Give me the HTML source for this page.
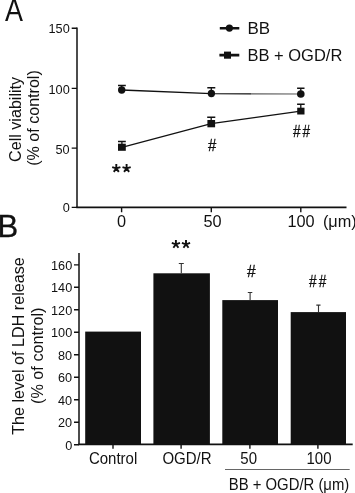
<!DOCTYPE html>
<html><head><meta charset="utf-8">
<style>
html,body{margin:0;padding:0;background:#fff;}
body{width:355px;height:493px;overflow:hidden;}
svg{display:block;will-change:transform;font-family:"Liberation Sans",sans-serif;fill:#111;}
.ln{stroke:#111;stroke-width:1.4;fill:none;}
.ax{stroke:#111;stroke-width:1.7;fill:none;}
.ay{stroke:#111;stroke-width:1.5;fill:none;}
.dl{stroke:#111;stroke-width:1.3;fill:none;}
.cp{stroke:#111;stroke-width:1.5;fill:none;}
.hs{stroke:#111;stroke-width:0.3;}
.as{stroke:#111;stroke-width:1.9;fill:none;}
.eb{stroke:#333;stroke-width:1.1;fill:none;}
</style></head><body>
<svg width="355" height="493" viewBox="0 0 355 493">
<rect width="355" height="493" fill="#fff"/>
<!-- Panel A -->
<text transform="translate(5 20.7) scale(0.885 1.055)" font-size="30.4">A</text>
<!-- axes -->
<path class="ay" d="M77 27.4V208"/>
<path class="ax" d="M76.25 207.4H346.5"/>
<path class="ln" d="M71.7 28.3H77M71.7 88.4H77M71.7 148.1H77M71.7 207.4H77"/>
<path class="ln" d="M121.6 207V212.3M211.3 207V212.3M300.8 207V212.3"/>
<g font-size="12.7" text-anchor="end">
<text x="69.7" y="32.8">150</text>
<text x="69.7" y="93.8">100</text>
<text x="69.7" y="153.5">50</text>
<text x="69.7" y="212.2">0</text>
</g>
<g font-size="16.3">
<text x="117.1" y="226.6">0</text>
<text x="203.4" y="226.6">50</text>
<text x="287.5" y="226.6">100</text>
<text x="322.9" y="226.6">(μm)</text>
</g>
<g font-size="16">
<text transform="translate(20.5 161.9) rotate(-90)" textLength="85" lengthAdjust="spacingAndGlyphs">Cell viability</text>
<text transform="translate(39.3 165.8) rotate(-90)" textLength="95.6" lengthAdjust="spacingAndGlyphs">(% of control)</text>
</g>
<!-- legend -->
<path d="M219.8 28.2H239.3M219.4 55.1H239.3" stroke="#111" stroke-width="2.6" fill="none"/>
<circle cx="229.4" cy="28.1" r="3.6"/>
<rect x="224" y="51.6" width="7" height="7.1"/>
<text x="247.5" y="33.6" font-size="15.8" textLength="22.6" lengthAdjust="spacingAndGlyphs">BB</text>
<text x="247.5" y="60.8" font-size="15.8" textLength="94.8" lengthAdjust="spacingAndGlyphs">BB + OGD/R</text>
<!-- data -->
<path class="dl" d="M121.7 90L211.3 93.6L251 93.8"/>
<path d="M251 93.8L300.8 94" stroke="#5a5a5a" stroke-width="1.2" fill="none"/>
<path class="dl" d="M121.9 147.3L211.2 123.7L300.8 111.2"/>
<path class="dl" d="M121.7 90V85.4M211.3 93.6V87.7M300.8 94V88.3 M121.9 147V141.6M211.2 123V117.2M300.8 111V104.3"/>
<path class="cp" d="M118 85.4H125.8M207.3 87.7H215.3M297.1 88.3H304.5 M118 141.6H125.8M207.2 117.2H215.3M297.1 104.3H304.7"/>
<circle cx="121.7" cy="90" r="3.7"/><circle cx="211.4" cy="93.5" r="3.65"/><circle cx="300.8" cy="94" r="3.8"/>
<rect x="118" y="143.7" width="7.8" height="7.1"/><rect x="207.4" y="120" width="7.7" height="7.3"/><rect x="297.2" y="107.7" width="7.3" height="6.8"/>
<path class="as" transform="translate(116.3 168.4)" d="M0 0V-4.3M0 0L4.1 -1.33M0 0L-4.1 -1.33M0 0L2.53 3.48M0 0L-2.53 3.48"/><path class="as" transform="translate(126.6 168.4)" d="M0 0V-4.3M0 0L4.1 -1.33M0 0L-4.1 -1.33M0 0L2.53 3.48M0 0L-2.53 3.48"/>
<text class="hs" x="212.2" y="150.8" font-size="16.2" text-anchor="middle" textLength="8.3" lengthAdjust="spacingAndGlyphs">#</text>
<text class="hs" x="296.7" y="137.2" font-size="16.2" text-anchor="middle" textLength="7.6" lengthAdjust="spacingAndGlyphs">#</text><text class="hs" x="306.2" y="137.2" font-size="16.2" text-anchor="middle" textLength="7.6" lengthAdjust="spacingAndGlyphs">#</text>

<!-- Panel B -->
<text x="-2.5" y="236.9" font-size="31" stroke="#111" stroke-width="0.3">B</text>
<path class="ay" d="M79 253V445"/>
<path class="ax" d="M78.25 444.45H352.7"/>
<path class="ln" d="M74 444.7H79M74 422.2H79M74 399.7H79M74 377.3H79M74 354.8H79M74 332.3H79M74 309.8H79M74 287.3H79M74 264.9H79"/>
<g font-size="12.7" text-anchor="end">
<text x="72.2" y="449.7">0</text>
<text x="72.2" y="427.2">20</text>
<text x="72.2" y="404.7">40</text>
<text x="72.2" y="382.3">60</text>
<text x="72.2" y="359.8">80</text>
<text x="72.2" y="337.3">100</text>
<text x="72.2" y="314.8">120</text>
<text x="72.2" y="292.3">140</text>
<text x="72.2" y="269.9">160</text>
</g>
<rect x="85.2" y="331.6" width="55.8" height="113"/>
<rect x="153.4" y="273.3" width="56.5" height="171.3"/>
<rect x="222.3" y="300.1" width="55.7" height="144.5"/>
<rect x="290.7" y="312.1" width="55.3" height="132.5"/>
<path class="eb" d="M181.3 273.2V263.4M178.8 263.5H183.8 M250.1 300.3V292.4M247.8 292.5H252.3 M318.5 312V305M316.3 305.1H320.5"/>
<path class="ln" d="M113 444.5V448.8M181.1 444.5V448.8M249.9 444.5V448.8M317.9 444.5V448.8"/>
<g font-size="15.7" text-anchor="middle" lengthAdjust="spacingAndGlyphs">
<text x="113.1" y="463.5" textLength="48.4" lengthAdjust="spacingAndGlyphs">Control</text>
<text x="187" y="463.5" textLength="49.2" lengthAdjust="spacingAndGlyphs">OGD/R</text>
<text x="248.7" y="463.5" textLength="16.7" lengthAdjust="spacingAndGlyphs">50</text>
<text x="319" y="463.5" textLength="25" lengthAdjust="spacingAndGlyphs">100</text>
<text x="289" y="489.5" textLength="120.5" lengthAdjust="spacingAndGlyphs">BB + OGD/R (μm)</text>
</g>
<path d="M225 469.5H349.7" stroke="#555" stroke-width="0.9" fill="none"/>
<path class="as" transform="translate(175.9 244.3)" d="M0 0V-4.3M0 0L4.1 -1.33M0 0L-4.1 -1.33M0 0L2.53 3.48M0 0L-2.53 3.48"/><path class="as" transform="translate(186 244.3)" d="M0 0V-4.3M0 0L4.1 -1.33M0 0L-4.1 -1.33M0 0L2.53 3.48M0 0L-2.53 3.48"/>
<text class="hs" x="251.3" y="276.8" font-size="16.2" text-anchor="middle" textLength="8.7" lengthAdjust="spacingAndGlyphs">#</text>
<text class="hs" x="312.85" y="287" font-size="16.2" text-anchor="middle" textLength="7.6" lengthAdjust="spacingAndGlyphs">#</text><text class="hs" x="322.45" y="287" font-size="16.2" text-anchor="middle" textLength="7.6" lengthAdjust="spacingAndGlyphs">#</text>
<g font-size="16">
<text transform="translate(23.7 434.8) rotate(-90)" textLength="177.5" lengthAdjust="spacingAndGlyphs">The level of LDH release</text>
<text transform="translate(43 404) rotate(-90)" textLength="96.5" lengthAdjust="spacingAndGlyphs">(% of control)</text>
</g>
</svg>
</body></html>
